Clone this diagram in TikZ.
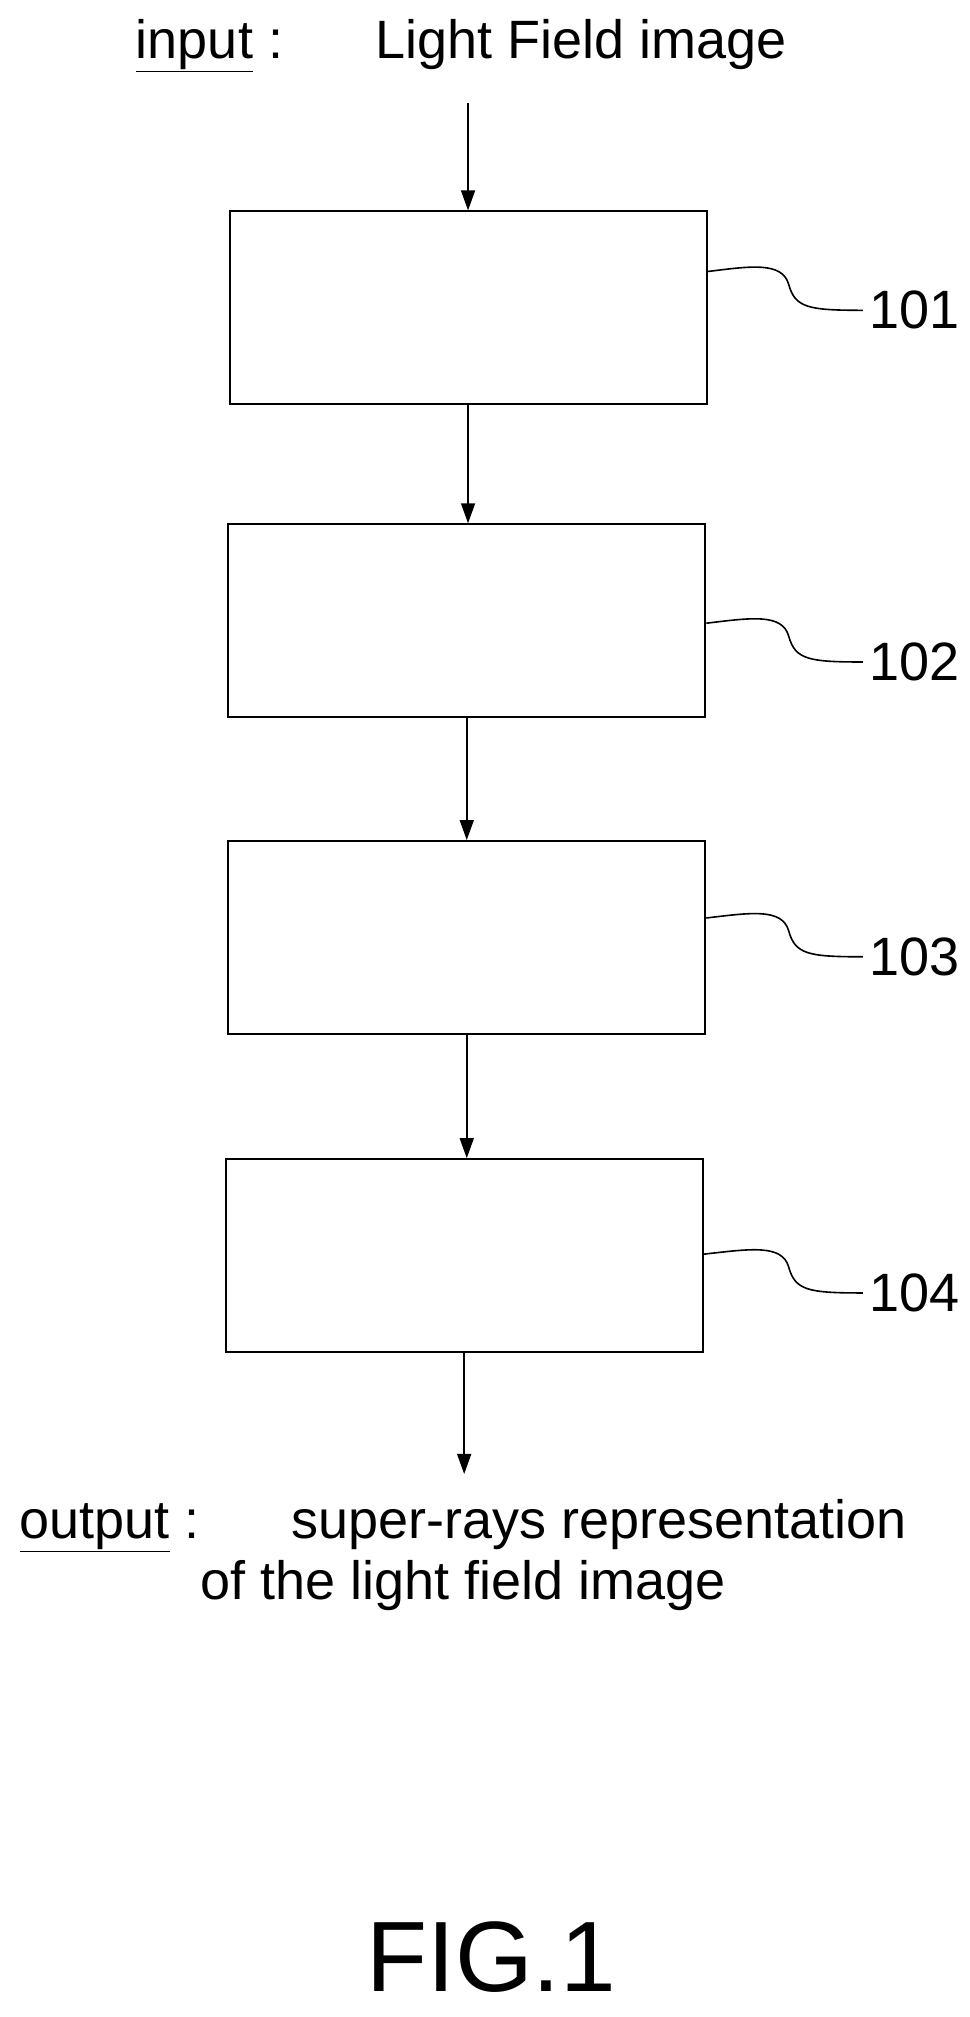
\documentclass[tikz,border=0pt]{standalone}
\usepackage{fontspec}
\setmainfont{Liberation Sans}
\usetikzlibrary{arrows.meta}
\begin{document}
\begin{tikzpicture}[x=1.293pt,y=-1.293pt,
  stepbox/.style={draw,line width=2pt,minimum width=369*1.293pt,minimum height=149*1.293pt,inner sep=0pt},
  flow/.style={line width=1.6pt,-{Triangle[width=14pt,length=20pt]}},
  lead/.style={line width=1.6pt},
  txt/.style={font=\fontsize{54}{64}\selectfont,inner sep=0pt}]
\useasboundingbox (0,0) rectangle (750,1560);
\node[txt,anchor=base west] (inl) at (105,45) {\underline{input} :};
\node[txt,anchor=base west] (intext) at (290,45) {Light Field image};
\node[stepbox] (b1) at (362,238) {};
\node[stepbox] (b2) at (361,480) {};
\node[stepbox] (b3) at (361,725) {};
\node[stepbox] (b4) at (359,971) {};
\coordinate (s0) at (362,80);
\draw[flow] (s0) -- (b1.north);
\draw[flow] (b1.south) -- (b1.south |- b2.north);
\draw[flow] (b2.south) -- (b2.south |- b3.north);
\draw[flow] (b3.south) -- (b3.south |- b4.north);
\coordinate (e0) at (359,1140);
\draw[flow] (b4.south) -- (e0);
\foreach \b/\n/\yy in {b1/101/210,b2/102/482,b3/103/710,b4/104/970}{
  \node[txt,anchor=west] (l\n) at (672,\yy+30) {\n};
  \draw[lead] (\b.east |- 0,\yy) .. controls (580,\yy-4) and (605,\yy-8) .. (610,\yy+10)
     .. controls (615,\yy+28) and (625,\yy+30) .. ([xshift=-6pt]l\n.west);
}
\node[txt,anchor=base west] (outl) at (15,1190) {\underline{output} :};
\node[txt,anchor=base west] (o1) at (225,1190) {super-rays representation};
\node[txt,anchor=base west] (o2) at (155,1237) {of the light field image};
\node[inner sep=0pt,font=\fontsize{100}{110}\selectfont,anchor=base] (fig) at (380,1540) {FIG.1};
\end{tikzpicture}
\end{document}
